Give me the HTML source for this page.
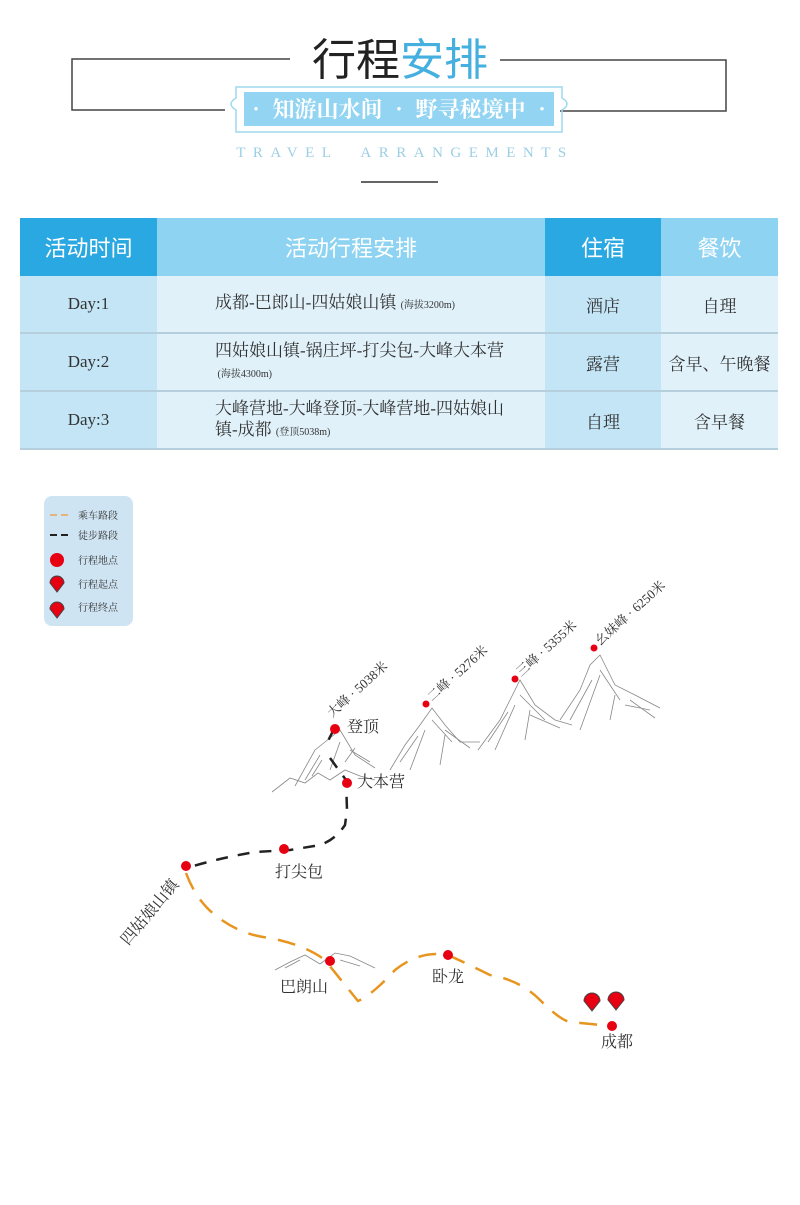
<!DOCTYPE html>
<html><head><meta charset="utf-8"><style>
body{margin:0;width:800px;height:1205px;background:#fff;position:relative;overflow:hidden;font-family:"Liberation Serif","Noto Serif CJK SC",serif;}
.abs{position:absolute}
table{position:absolute;left:20px;top:218px;width:758px;border-collapse:collapse;table-layout:fixed}
td{padding:0;text-align:center;color:#333;font-size:17px;border-bottom:2px solid #b5cfdd}
tr.h td{height:58px;color:#fff;font-size:22px;font-family:"Liberation Sans","Noto Sans CJK SC",sans-serif;border:none}
tr.b td{height:56px}
.d{background:#2aa8e2}.l{background:#8fd3f2}
.c1{background:#c3e5f6}.c2{background:#e0f1fa}
.left{text-align:left;padding-left:58px;line-height:21px}
small{font-size:10px}
</style></head><body>
<svg class="abs" style="left:0;top:0" width="800" height="200">
<polyline points="290,59 72,59 72,110 225,110" fill="none" stroke="#444" stroke-width="1.5"/>
<polyline points="500,60 726,60 726,111 560,111" fill="none" stroke="#444" stroke-width="1.5"/>
<path d="M236,87 L562,87 L562,98 Q572,104 562,110 L562,132 L236,132 L236,110 Q226,104 236,98 Z" fill="none" stroke="#9fd8f1" stroke-width="1.5"/>
<path d="M244,92 L554,92 L554,126 L244,126 Z" fill="#92d4f1"/>
<line x1="361" y1="182" x2="438" y2="182" stroke="#333" stroke-width="1.5"/>
</svg>
<div class="abs" style="left:300px;top:26px;width:200px;text-align:center;font-size:44px;font-family:'Noto Sans CJK SC',sans-serif;color:#222;line-height:60px">行程<span style="color:#45b0df">安排</span></div>
<div class="abs" style="left:244px;top:92px;width:310px;text-align:center;font-size:22px;color:#fff;line-height:34px;font-family:'Noto Serif CJK SC',serif;font-weight:bold">• 知游山水间 • 野寻秘境中 •</div>
<div class="abs" style="left:210px;top:145px;width:390px;text-align:center;font-size:15px;letter-spacing:7.5px;color:#9ccfe4">TRAVEL &nbsp;ARRANGEMENTS</div>

<table>
<colgroup><col style="width:137px"><col style="width:388px"><col style="width:116px"><col style="width:117px"></colgroup>
<tr class="h"><td class="d">活动时间</td><td class="l">活动行程安排</td><td class="d">住宿</td><td class="l">餐饮</td></tr>
<tr class="b"><td class="c1">Day:1</td><td class="c2 left">成都-巴郎山-四姑娘山镇 <small>(海拔3200m)</small></td><td class="c1">酒店</td><td class="c2">自理</td></tr>
<tr class="b"><td class="c1">Day:2</td><td class="c2 left">四姑娘山镇-锅庄坪-打尖包-大峰大本营<br><small>&nbsp;(海拔4300m)</small></td><td class="c1">露营</td><td class="c2">含早、午晚餐</td></tr>
<tr class="b"><td class="c1">Day:3</td><td class="c2 left">大峰营地-大峰登顶-大峰营地-四姑娘山<br>镇-成都 <small>(登顶5038m)</small></td><td class="c1">自理</td><td class="c2">含早餐</td></tr>
</table>

<svg class="abs" style="left:0;top:480px" width="800" height="620" font-family="Liberation Serif,Noto Serif CJK SC,serif">
<rect x="44" y="16" width="89" height="130" rx="8" fill="#cfe4f2"/>
<line x1="50" y1="35" x2="70" y2="35" stroke="#e3b57a" stroke-width="2" stroke-dasharray="7,4"/>
<line x1="50" y1="55" x2="70" y2="55" stroke="#222" stroke-width="2" stroke-dasharray="7,4"/>
<circle cx="57" cy="80" r="7" fill="#e60012"/>
<path d="M57,112 L50,103 A7,7 0 1 1 64,103 Z" fill="#e60012" stroke="#444"/>
<path d="M57,138 L50,129 A7,7 0 1 1 64,129 Z" fill="#e60012" stroke="#444"/>
<g font-size="10" fill="#333"><text x="78" y="39">乘车路段</text><text x="78" y="59">徒步路段</text><text x="78" y="84">行程地点</text><text x="78" y="108">行程起点</text><text x="78" y="131">行程终点</text></g>
<g fill="none" stroke="#888" stroke-width="0.8">
<path d="M295,306 L315,270 L325,262 L340,250 L355,275 L375,288"/><path d="M305,300 L320,275 M330,290 L340,262 M345,282 L355,268 M312,296 L322,280 M350,270 L370,282"/>
<path d="M390,290 L405,265 L420,245 L432,228 L445,245 L460,262 L480,262"/><path d="M410,290 L425,250 M440,285 L445,255 M400,282 L418,256 M432,240 L452,262 M445,250 L470,268"/>
<path d="M478,270 L500,240 L510,220 L520,200 L535,225 L555,240 L572,245"/><path d="M495,270 L515,225 M525,260 L530,230 M488,262 L508,232 M520,215 L545,240 M530,235 L560,248"/>
<path d="M560,240 L580,210 L590,185 L600,175 L615,205 L635,215 L660,228"/><path d="M580,250 L600,195 M610,240 L615,215 M625,225 L650,230 M570,240 L592,200 M600,190 L620,220 M630,220 L655,238"/>
<path d="M272,312 L290,298 L305,303 L318,293 L330,300 L345,290 L360,296 L375,300"/>
<path d="M275,490 L290,482 L305,475 L320,484 M320,484 L335,473 L350,476 L375,488 M285,488 L300,480 M340,480 L360,486"/>
</g>
<g fill="none" stroke="#222" stroke-width="2.5" stroke-dasharray="12,10">
<path d="M334,249 L326,265 M330,278 L346,300 L347,330 L345,345 Q335,360 320,365 L290,370 L255,372 Q220,378 190,387"/>
</g>
<path d="M186,393 Q196,420 215,435 Q240,455 270,458 Q305,465 325,480 Q345,505 358,521 Q372,515 395,490 Q420,470 448,475 Q470,485 490,495 Q520,500 540,520 Q560,540 570,542 L612,546" fill="none" stroke="#e8951f" stroke-width="2.5" stroke-dasharray="18,12"/>
<g fill="#e60012"><circle cx="335" cy="249" r="5"/><circle cx="347" cy="303" r="5"/><circle cx="284" cy="369" r="5"/><circle cx="186" cy="386" r="5"/><circle cx="330" cy="481" r="5"/><circle cx="448" cy="475" r="5"/><circle cx="612" cy="546" r="5"/>
<circle cx="426" cy="224" r="3.5"/><circle cx="515" cy="199" r="3.5"/><circle cx="594" cy="168" r="3.5"/></g>
<path d="M592,531 L584,521 A8,8 0 1 1 600,521 Z" fill="#e60012" stroke="#444"/>
<path d="M616,530 L608,520 A8,8 0 1 1 624,520 Z" fill="#e60012" stroke="#444"/>
<g font-size="16" fill="#333"><text x="347" y="252">登顶</text><text x="357" y="307">大本营</text><text x="275" y="397">打尖包</text><text x="280" y="512">巴朗山</text><text x="432" y="502">卧龙</text><text x="601" y="567">成都</text>
<text transform="translate(128,466) rotate(-50)">四姑娘山镇</text></g>
<g font-size="13" fill="#333"><text transform="translate(332,238) rotate(-42)">大峰 · 5038米</text><text transform="translate(432,222) rotate(-42)">二峰 · 5276米</text><text transform="translate(521,197) rotate(-42)">三峰 · 5355米</text><text transform="translate(600,166) rotate(-42)">幺妹峰 · 6250米</text></g>
</svg>
</body></html>
